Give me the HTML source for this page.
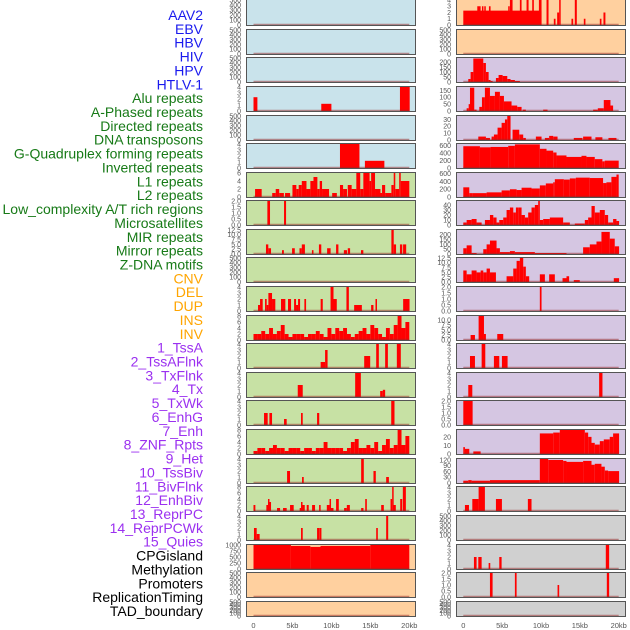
<!DOCTYPE html>
<html><head><meta charset="utf-8">
<style>
html,body{margin:0;padding:0;background:#fff;}
svg{display:block;font-family:"Liberation Sans",sans-serif;}
</style></head>
<body>
<svg id="chart" width="630" height="630" viewBox="0 0 630 630" xmlns="http://www.w3.org/2000/svg"></svg>
<script>
// ---- labels ----
const labelNames=["AAV2","EBV","HBV","HIV","HPV","HTLV-1","Alu repeats","A-Phased repeats","Directed repeats","DNA transposons","G-Quadruplex forming repeats","Inverted repeats","L1 repeats","L2 repeats","Low_complexity A/T rich regions","Microsatellites","MIR repeats","Mirror repeats","Z-DNA motifs","CNV","DEL","DUP","INS","INV","1_TssA","2_TssAFlnk","3_TxFlnk","4_Tx","5_TxWk","6_EnhG","7_Enh","8_ZNF_Rpts","9_Het","10_TssBiv","11_BivFlnk","12_EnhBiv","13_ReprPC","14_ReprPCWk","15_Quies","CPGisland","Methylation","Promoters","ReplicationTiming","TAD_boundary"];
const labelGroups=[6,13,5,15,5];
const groupColors=["#1a1aee","#177a17","#ffa500","#9b30f0","#000000"];

// ---- x axis ----
const xTicks=[0,5,10,15,20];
const xTickLabels=["0","5kb","10kb","15kb","20kb"];

// ---- panel backgrounds / ticks ----
const BLUE="#c9e3eb",GREEN="#c7e1a4",PEACH="#ffd09f",LAV="#d5c6e2",GREY="#d0d0d0";
const leftBg=[BLUE,BLUE,BLUE,BLUE,BLUE,BLUE,GREEN,GREEN,GREEN,GREEN,GREEN,GREEN,GREEN,GREEN,GREEN,GREEN,GREEN,GREEN,GREEN,PEACH,PEACH,PEACH];
const rightBg=[PEACH,PEACH,LAV,LAV,LAV,LAV,LAV,LAV,LAV,LAV,LAV,LAV,LAV,LAV,LAV,LAV,LAV,GREY,GREY,GREY,GREY,GREY];
const E=[0,100,200,300,400,500];
const F4=[0,1,2,3,4];
const T2=[0,0.5,1,1.5,2];
const leftTicks=[E,E,E,F4,E,F4,[0,2,4,6],T2,[0,2.5,5,7.5,10,12.5],E,F4,[0,2,4,6,8],F4,F4,F4,[0,2,4,6,8],F4,[0,2,4,6,8],F4,[0,250,500,750,1000],E,E];
const leftMax=[500,500,500,4,500,4,6,2,12.5,500,4,8,4,4,4,8,4,8,4,1000,500,500];
const rightTicks=[F4,E,[0,50,100,150,200],[0,50,100,150],[0,10,20,30],[0,200,400,600],[0,200,400,600],[0,10,20,30,40],[0,50,100,150,200],[0,2.5,5,7.5,10,12.5],T2,[0,2.5,5,7.5,10],F4,F4,T2,[0,10,20],[0,30,60,90,120],F4,E,F4,T2,E];
const rightMax=[4,500,240,175,35,650,620,48,250,12.5,2,12,4,4,2,28,125,4,500,4,2,500];

// ---- series: [startKb, endKb, value] ----
const L04=[[0,0.5,2.3],[8.7,10,1.2],[18.8,20.1,4]];
const L06=[[11.1,13.6,4],[14.3,16.8,1.2]];
const L07=[[0.2,1.05,2],[2.4,2.85,1],[2.85,3.3,2],[3.3,3.9,1],[4.05,4.7,1],[5.0,5.5,3],[5.5,5.8,2],[5.8,6.2,3],[6.2,6.8,4],[6.8,7.3,2],[7.3,7.7,4],[7.7,8.2,5],[8.2,8.5,2],[8.5,8.8,4],[8.8,9.7,2],[10.1,10.7,1],[11.1,11.5,3],[11.5,12,2],[12.1,12.6,3],[12.6,13.2,2],[13.2,13.7,6],[13.7,14.1,2],[14.1,14.9,6],[14.9,15.1,4],[15.1,15.6,6],[15.6,16.3,2],[16.3,16.5,1],[16.5,16.9,3],[16.9,17.7,1],[17.7,18,3],[18,18.2,6],[18.2,18.7,2],[18.7,18.9,6],[18.9,20,4]];
const L08=[[1.78,2.12,2],[3.92,4.18,2]];
const L09=[[1.6,1.9,5],[1.9,2.25,3],[3.66,3.9,2],[4.95,5.3,3],[5.9,6.2,3],[6.2,6.6,5],[7.5,7.7,2],[8.4,8.7,5],[9.45,9.9,3],[10.6,10.9,5],[11.6,12,2],[12.1,12.4,3],[13.8,14.1,2],[17.7,18,12.5],[18,18.3,5],[18.8,19.1,5],[19.2,19.6,5]];
const L11=[[0.58,0.84,1],[0.84,1.18,2],[1.48,1.69,2],[1.69,1.91,1],[1.91,2.38,3],[2.38,2.55,2],[2.55,2.8,2],[3.53,4.09,2],[4.43,4.82,2],[5.21,5.46,2],[5.46,5.72,1],[5.72,5.98,2],[6.53,6.75,2],[8.62,8.89,2],[9.89,10.27,4],[10.27,10.69,2],[11.93,12.24,4],[12.92,13.91,1],[15.1,15.4,1],[15.66,15.83,2],[19.21,20.03,2]];
const L12_bins=[2,2,3,2,4,2,3,5,2,1,2,2,2,1,2,2,3,2,1,4,2,4,3,4,2,1,2,3,4,2,5,4,2,1,4,2,5,8,4,6];
const L13=[[8.62,9.19,1],[9.19,9.51,3],[14.21,14.98,2],[15.75,16.09,4],[16.9,17.25,4],[18.4,18.91,4]];
const L14=[[5.68,6.32,2],[13.05,13.78,4],[16.26,16.6,1],[16.6,16.9,1.2]];
const L15=[[1.35,1.82,2],[2.04,2.38,2],[3.92,4.26,1],[6.1,6.32,2],[8.16,8.44,2],[17.68,18.1,4]];
const L16_bins=[1,2,2,1,2,3,2,2,1,2,2,2,1,2,2,1,2,2,4,2,2,2,2,1,2,4,5,2,2,3,2,4,1,3,5,2,3,8,3,6];
const L17=[[4.31,4.69,2],[6.23,6.45,1],[13.82,14.16,4],[15.4,15.7,2],[17.03,17.38,1]];
const L18=[[0,0.24,2],[1.65,1.86,2],[1.86,2.04,4],[2.04,2.25,3],[3.02,3.41,1],[3.79,4.26,1],[4.69,5.16,2],[5.93,6.1,1],[6.1,6.23,3],[6.23,6.58,2],[6.83,7.09,2],[7.52,7.9,2],[8.42,8.62,2],[9.41,9.76,2],[9.76,9.93,4],[9.93,10.27,1],[10.6,10.95,4],[11.63,11.98,1],[11.98,12.37,2],[13.82,14.12,1],[14.34,14.55,4],[16.39,16.73,2],[17.59,17.8,4],[17.8,17.97,8],[17.97,18.27,2],[18.83,19.09,4],[19.17,19.56,8]];
const L19=[[0.06,0.41,2],[0.41,0.79,1],[6.1,6.32,2],[8.16,8.42,2],[8.44,8.72,2],[15.75,15.96,2],[17.03,17.29,4]];
const L20=[[0,4.8,1000],[4.8,7.3,960],[7.3,8.6,920],[8.6,15,960],[15,20,1000]];

const R01=[[0,10.07,2.3],[1.8,2.23,3],[2.4,2.57,3],[2.7,2.87,3],[3.3,3.51,3],[5.78,5.91,3],[6.0,6.34,4],[7.28,7.5,4],[8.14,8.4,4],[8.87,9.08,4],[9.73,10.07,4],[10.71,10.97,4],[11.65,11.87,1],[12.08,12.34,2],[12.34,12.51,4],[13.92,14.14,1],[14.35,14.61,4],[15.51,15.72,1],[17.57,17.78,1],[18.04,18.29,2]];
const R03=[[0.64,0.94,30],[0.94,1.29,100],[1.29,2.57,235],[2.57,2.91,190],[2.91,3.26,100],[3.26,3.51,20],[3.51,3.77,10],[4.2,4.54,40],[4.54,5.06,70],[5.06,5.66,60],[5.66,6.08,30],[6.08,6.64,20],[6.64,7.28,10]];
const R04=[[0.43,0.69,20],[0.69,0.86,50],[0.86,1.41,170],[1.41,1.71,10],[2.06,2.4,30],[2.4,2.78,100],[2.78,3.43,170],[3.43,4.07,110],[4.07,4.71,140],[4.71,5.23,110],[5.23,6.21,70],[6.21,6.94,40],[6.94,7.5,30],[7.63,8.05,10],[10.28,10.84,10],[16.71,17.31,10],[17.31,18.08,20],[18.08,18.94,80],[18.94,19.28,40]];
const R05=[[1.93,2.91,5],[2.91,3.43,3],[3.64,3.94,5],[3.94,4.41,8],[4.41,4.93,18],[4.93,5.36,25],[5.36,5.66,30],[5.66,6.08,35],[6.34,7.2,15],[7.2,7.71,8],[7.71,8.05,3],[9.34,10.07,5],[10.5,11.05,3],[11.05,11.57,6],[11.57,12.13,5],[14.22,15.34,3],[15.42,16.5,5],[17.0,17.9,4],[18.68,19.71,3]];
const R06=[[0,2.14,590],[2.14,3.51,560],[3.51,5.78,570],[5.78,6.64,600],[6.64,9.85,640],[9.85,10.71,520],[10.71,11.57,470],[11.57,12,420],[12,13.28,340],[13.28,15.21,300],[15.21,15.85,330],[15.85,16.92,300],[16.92,17.9,240],[17.9,18.2,180],[18.2,20,200]];
const R07=[[0,0.77,250],[0.77,1.2,100],[1.2,3,100],[3,4.93,120],[4.93,6,170],[6,6.86,200],[6.86,7.5,180],[7.5,8.78,240],[8.78,9.85,220],[9.85,10.62,300],[10.62,11.57,350],[11.57,11.78,380],[11.78,12.94,460],[12.94,13.71,450],[13.71,14.48,480],[14.48,16.28,500],[16.28,17.99,490],[17.99,18.42,360],[18.42,19.06,380],[19.06,19.71,520],[19.71,20,580]];
const R08=[[0,0.43,5],[0.43,1.07,10],[1.07,1.71,12],[1.71,2.36,5],[2.78,3.43,10],[3.43,3.86,20],[3.86,4.28,15],[4.28,4.63,5],[4.63,5.14,10],[5.14,5.57,15],[5.57,6.0,30],[6.0,6.43,35],[6.43,6.77,25],[6.77,7.07,35],[7.07,7.5,35],[7.5,7.93,20],[7.93,8.35,15],[8.35,8.78,25],[8.78,9.21,35],[9.21,9.64,40],[9.64,9.85,48],[9.85,10.28,10],[10.28,11.14,12],[11.14,12.85,15],[12.85,13.71,5],[14.35,15.64,3],[15.64,16.07,10],[16.07,16.5,15],[16.5,16.92,38],[16.92,17.57,25],[17.57,18.21,30],[18.21,18.64,20],[18.64,19.28,5],[19.28,19.71,12],[19.71,20.05,8]];
const R09=[[0,0.43,60],[0.43,1.07,90],[1.07,1.71,10],[2.57,3.0,50],[3.0,3.43,100],[3.43,4.28,140],[4.28,4.71,60],[4.71,6.0,20],[6.0,6.64,30],[6.64,9.21,20],[9.21,13.28,10],[15.42,16.28,70],[16.28,17.14,100],[17.14,17.78,130],[17.78,18.85,230],[18.85,19.49,160],[19.49,20.05,80]];
const R10=[[0,0.43,6],[0.43,1.07,4],[1.07,1.71,6],[1.71,2.23,5],[2.23,2.57,6],[2.57,3.0,5],[3.0,3.43,7],[3.43,4.2,5],[5.57,6.43,3],[6.43,6.86,7],[6.86,7.28,11],[7.28,7.71,12.5],[7.71,8.05,8],[8.05,8.48,3],[9.85,10.5,4],[11.05,11.78,4],[12.77,13.28,2],[13.28,13.62,3],[14.22,14.99,1],[19.37,20.05,2]];
const R11=[[9.85,10.07,2]];
const R12=[[0.94,1.5,2.5],[1.97,2.66,12],[2.66,2.91,3],[4.37,5.14,3]];
const R13=[[0.86,1.5,2],[2.36,2.83,4],[3.94,4.63,2],[4.97,5.7,2]];
const R14=[[0.64,1.16,2],[17.48,17.91,4]];
const R15=[[0,1.2,2]];
const R16=[[0,0.21,8],[0.21,0.77,6],[1.29,2.23,3],[9.85,11.57,24],[11.57,12.42,25],[12.42,15.64,28],[15.64,16.07,25],[16.07,16.5,20],[16.5,16.92,13],[16.92,17.57,11],[17.57,18.08,15],[18.08,18.85,17],[18.85,19.28,20],[19.28,20.05,24]];
const R17=[[0,0.64,12],[0.64,1.07,15],[1.07,3.43,12],[3.43,9.85,15],[9.85,10.93,125],[10.93,12.85,120],[12.85,13.28,115],[13.28,15.42,110],[15.42,16.5,115],[16.5,16.92,95],[16.92,17.78,100],[17.78,18.21,85],[18.21,18.64,65],[18.64,20.05,62]];
const R18=[[0.21,0.73,1],[1.16,1.97,2],[1.97,2.78,4],[4.2,4.97,2],[8.31,8.78,2]];
const R20=[[1.37,1.71,2],[1.93,2.36,2],[3.26,3.47,1],[4.63,4.93,2],[18.34,18.77,4]];
const R21=[[3.43,3.77,2],[6.64,6.86,2],[12.13,12.34,1],[18.47,18.77,2]];

function binsToSeg(bins){const s=[];bins.forEach((v,i)=>{if(v>0)s.push([i*0.5,i*0.5+0.5,v]);});return s;}
const leftSeries=[[],[],[],L04,[],L06,L07,L08,L09,[],L11,binsToSeg(L12_bins),L13,L14,L15,binsToSeg(L16_bins),L17,L18,L19,L20,[],[]];
const rightSeries=[R01,[],R03,R04,R05,R06,R07,R08,R09,R10,R11,R12,R13,R14,R15,R16,R17,R18,[],R20,R21,[]];

// ---- layout ----
const rowTops=[-1,29,57,86,115,143,172,200,229,257,286,315,343,372,400,429,458,486,515,544,572,601];
const rowHeights=[27,26,26,26,26,26,26,26,26,26,26,26,26,26,26,26,26,26,26,26,26,16];
const cols=[{x0:246,x1:416,k0:253.5,k20:409.3,tx:241},{x0:456,x1:626,k0:463.3,k20:618.7,tx:451}];
const NS="http://www.w3.org/2000/svg";
const svg=document.getElementById('chart');
function mk(tag,attrs,parent){const e=document.createElementNS(NS,tag);for(const k in attrs)e.setAttribute(k,attrs[k]);(parent||svg).appendChild(e);return e;}

const lg=mk('g',{});


let gi=0,gc=0;
labelNames.forEach((n,i)=>{
  while(gc>=labelGroups[gi]){gi++;gc=0;}
  gc++;
  const y=15+i*(596/(labelNames.length-1));
  const t=mk('text',{x:203,y:y+5,'text-anchor':'end','font-size':'14',fill:groupColors[gi]},lg);
  t.textContent=n;
  
  
});

function drawPanel(c,r,bg,ticks,ymax,segs,side){
  const col=cols[c];const y0=rowTops[r],h=rowHeights[r];
  const g=mk('g',{});
  
  
  const xs=kb=>col.k0+(kb/20)*(col.k20-col.k0);
  const ys=v=>y0+h-1-(Math.min(v,ymax)/ymax)*(h-2);
  mk('rect',{x:col.x0,y:y0,width:col.x1-col.x0,height:h,fill:bg},g);
  segs.forEach(s=>{
    const a=xs(Math.max(0,s[0])),b=xs(Math.min(20.05,s[1]));
    const bar=mk('rect',{x:a,y:ys(s[2]),width:Math.max(1.5,b-a),height:ys(0)-ys(s[2]),fill:'#ff0000'},g);
    
    
  });
  mk('line',{x1:xs(0),x2:xs(20),y1:ys(0)-0.5,y2:ys(0)-0.5,stroke:'rgba(150,40,40,0.5)','stroke-width':1.5},g);
  mk('rect',{x:col.x0+0.5,y:y0+0.5,width:col.x1-col.x0-1,height:h-1,fill:'none',stroke:'#555','stroke-width':1},g);
  const dec=ticks.some(t=>t%1!==0);
  ticks.forEach(t=>{
    const tl=mk('text',{x:col.tx,y:ys(t)+2.4,'text-anchor':'end','font-size':'7',fill:'#555'},g);
    tl.textContent=dec?t.toFixed(1):String(t);
    
    
  });
}
for(let r=0;r<22;r++){
  drawPanel(0,r,leftBg[r],leftTicks[r],leftMax[r],leftSeries[r],'left');
  drawPanel(1,r,rightBg[r],rightTicks[r],rightMax[r],rightSeries[r],'right');
}
cols.forEach((col,ci)=>{
  xTicks.forEach((t,i)=>{
    const x=col.k0+(t/20)*(col.k20-col.k0);
    const tl=mk('text',{x:x,y:628,'text-anchor':'middle','font-size':'7.5',fill:'#555'});
    tl.textContent=xTickLabels[i];
    
    
  });
});
</script>
</body></html>
